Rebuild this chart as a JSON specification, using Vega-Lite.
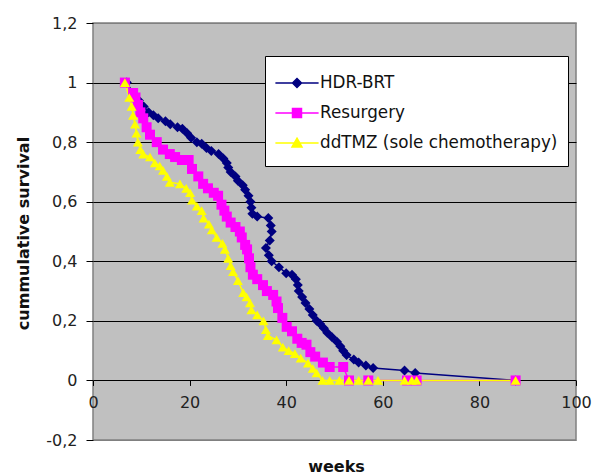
{
  "$schema": "https://vega.github.io/schema/vega-lite/v6.json",
  "width": 483,
  "height": 417,
  "autosize": {"type": "none"},
  "padding": {"left": 93, "top": 23, "right": 17, "bottom": 36},
  "background": "white",
  "config": {
    "view": {"fill": "#C0C0C0", "stroke": "#808080", "strokeWidth": 1.5},
    "font": "DejaVu Sans",
    "axis": {"labelFont": "DejaVu Sans", "titleFont": "DejaVu Sans", "labelFontSize": 16, "labelColor": "#222222", "titleColor": "#111111", "titleFontSize": 16, "titleFontWeight": "bold", "tickColor": "black"}
  },
  "data": {
    "values": [
      {"series": "HDR-BRT", "weeks": 7, "survival": 1.0},
      {"series": "HDR-BRT", "weeks": 8.5, "survival": 0.96},
      {"series": "HDR-BRT", "weeks": 9.5, "survival": 0.94},
      {"series": "HDR-BRT", "weeks": 10.5, "survival": 0.92},
      {"series": "HDR-BRT", "weeks": 11.5, "survival": 0.9},
      {"series": "HDR-BRT", "weeks": 12.5, "survival": 0.89},
      {"series": "HDR-BRT", "weeks": 13.5, "survival": 0.88},
      {"series": "HDR-BRT", "weeks": 15, "survival": 0.87},
      {"series": "HDR-BRT", "weeks": 16, "survival": 0.86},
      {"series": "HDR-BRT", "weeks": 17.5, "survival": 0.85},
      {"series": "HDR-BRT", "weeks": 18.5, "survival": 0.845},
      {"series": "HDR-BRT", "weeks": 19.5, "survival": 0.83},
      {"series": "HDR-BRT", "weeks": 20.3, "survival": 0.815},
      {"series": "HDR-BRT", "weeks": 21.5, "survival": 0.8},
      {"series": "HDR-BRT", "weeks": 22.5, "survival": 0.795},
      {"series": "HDR-BRT", "weeks": 23.5, "survival": 0.78},
      {"series": "HDR-BRT", "weeks": 24.5, "survival": 0.77},
      {"series": "HDR-BRT", "weeks": 26, "survival": 0.76},
      {"series": "HDR-BRT", "weeks": 27, "survival": 0.745},
      {"series": "HDR-BRT", "weeks": 27.7, "survival": 0.73},
      {"series": "HDR-BRT", "weeks": 28, "survival": 0.715},
      {"series": "HDR-BRT", "weeks": 28.5, "survival": 0.7},
      {"series": "HDR-BRT", "weeks": 29.5, "survival": 0.685},
      {"series": "HDR-BRT", "weeks": 30, "survival": 0.67},
      {"series": "HDR-BRT", "weeks": 31, "survival": 0.655},
      {"series": "HDR-BRT", "weeks": 31.5, "survival": 0.64},
      {"series": "HDR-BRT", "weeks": 32.2, "survival": 0.62},
      {"series": "HDR-BRT", "weeks": 32.6, "survival": 0.6},
      {"series": "HDR-BRT", "weeks": 32.8, "survival": 0.58},
      {"series": "HDR-BRT", "weeks": 33, "survival": 0.56},
      {"series": "HDR-BRT", "weeks": 34, "survival": 0.55},
      {"series": "HDR-BRT", "weeks": 36.3, "survival": 0.545},
      {"series": "HDR-BRT", "weeks": 36.8, "survival": 0.52},
      {"series": "HDR-BRT", "weeks": 37, "survival": 0.5},
      {"series": "HDR-BRT", "weeks": 36.6, "survival": 0.47},
      {"series": "HDR-BRT", "weeks": 35.8, "survival": 0.445},
      {"series": "HDR-BRT", "weeks": 36.4, "survival": 0.42},
      {"series": "HDR-BRT", "weeks": 37, "survival": 0.4},
      {"series": "HDR-BRT", "weeks": 38.5, "survival": 0.38},
      {"series": "HDR-BRT", "weeks": 40, "survival": 0.36},
      {"series": "HDR-BRT", "weeks": 41.2, "survival": 0.355},
      {"series": "HDR-BRT", "weeks": 42, "survival": 0.34},
      {"series": "HDR-BRT", "weeks": 42.4, "survival": 0.32},
      {"series": "HDR-BRT", "weeks": 42.6, "survival": 0.3},
      {"series": "HDR-BRT", "weeks": 43.3, "survival": 0.28},
      {"series": "HDR-BRT", "weeks": 44, "survival": 0.26},
      {"series": "HDR-BRT", "weeks": 44.8, "survival": 0.24},
      {"series": "HDR-BRT", "weeks": 45.5, "survival": 0.22},
      {"series": "HDR-BRT", "weeks": 46.3, "survival": 0.2},
      {"series": "HDR-BRT", "weeks": 47, "survival": 0.19},
      {"series": "HDR-BRT", "weeks": 47.8, "survival": 0.175},
      {"series": "HDR-BRT", "weeks": 48.5, "survival": 0.16},
      {"series": "HDR-BRT", "weeks": 49.5, "survival": 0.145},
      {"series": "HDR-BRT", "weeks": 50.5, "survival": 0.13},
      {"series": "HDR-BRT", "weeks": 51.2, "survival": 0.115},
      {"series": "HDR-BRT", "weeks": 51.8, "survival": 0.1},
      {"series": "HDR-BRT", "weeks": 52.5, "survival": 0.085},
      {"series": "HDR-BRT", "weeks": 54, "survival": 0.07},
      {"series": "HDR-BRT", "weeks": 55, "survival": 0.06},
      {"series": "HDR-BRT", "weeks": 56.5, "survival": 0.05},
      {"series": "HDR-BRT", "weeks": 58, "survival": 0.042},
      {"series": "HDR-BRT", "weeks": 64.5, "survival": 0.033},
      {"series": "HDR-BRT", "weeks": 66.7, "survival": 0.025},
      {"series": "HDR-BRT", "weeks": 87.5, "survival": 0.0},
      {"series": "Resurgery", "weeks": 6.6, "survival": 1.0},
      {"series": "Resurgery", "weeks": 8.3, "survival": 0.965},
      {"series": "Resurgery", "weeks": 8.8, "survival": 0.95},
      {"series": "Resurgery", "weeks": 9.3, "survival": 0.925},
      {"series": "Resurgery", "weeks": 9.8, "survival": 0.9},
      {"series": "Resurgery", "weeks": 10.4, "survival": 0.88},
      {"series": "Resurgery", "weeks": 11.1, "survival": 0.85},
      {"series": "Resurgery", "weeks": 11.8, "survival": 0.825},
      {"series": "Resurgery", "weeks": 13.2, "survival": 0.8},
      {"series": "Resurgery", "weeks": 14.5, "survival": 0.775},
      {"series": "Resurgery", "weeks": 15.9, "survival": 0.76},
      {"series": "Resurgery", "weeks": 17, "survival": 0.75},
      {"series": "Resurgery", "weeks": 18.4, "survival": 0.74},
      {"series": "Resurgery", "weeks": 19.8, "survival": 0.74},
      {"series": "Resurgery", "weeks": 20.5, "survival": 0.71},
      {"series": "Resurgery", "weeks": 21.8, "survival": 0.685},
      {"series": "Resurgery", "weeks": 22.8, "survival": 0.66},
      {"series": "Resurgery", "weeks": 23.8, "survival": 0.645},
      {"series": "Resurgery", "weeks": 25, "survival": 0.63},
      {"series": "Resurgery", "weeks": 25.9, "survival": 0.62},
      {"series": "Resurgery", "weeks": 26.6, "survival": 0.59},
      {"series": "Resurgery", "weeks": 27.2, "survival": 0.57},
      {"series": "Resurgery", "weeks": 27.7, "survival": 0.55},
      {"series": "Resurgery", "weeks": 28.5, "survival": 0.53},
      {"series": "Resurgery", "weeks": 29.5, "survival": 0.515},
      {"series": "Resurgery", "weeks": 30.4, "survival": 0.5},
      {"series": "Resurgery", "weeks": 30.8, "survival": 0.48},
      {"series": "Resurgery", "weeks": 31.5, "survival": 0.455},
      {"series": "Resurgery", "weeks": 31.9, "survival": 0.44},
      {"series": "Resurgery", "weeks": 32.3, "survival": 0.41},
      {"series": "Resurgery", "weeks": 32.6, "survival": 0.38},
      {"series": "Resurgery", "weeks": 33.1, "survival": 0.355},
      {"series": "Resurgery", "weeks": 34, "survival": 0.34},
      {"series": "Resurgery", "weeks": 35.2, "survival": 0.32},
      {"series": "Resurgery", "weeks": 36, "survival": 0.3},
      {"series": "Resurgery", "weeks": 37.3, "survival": 0.287},
      {"series": "Resurgery", "weeks": 38, "survival": 0.265},
      {"series": "Resurgery", "weeks": 38.3, "survival": 0.243},
      {"series": "Resurgery", "weeks": 39.2, "survival": 0.21},
      {"series": "Resurgery", "weeks": 40.1, "survival": 0.18},
      {"series": "Resurgery", "weeks": 41.2, "survival": 0.165},
      {"series": "Resurgery", "weeks": 42.3, "survival": 0.14},
      {"series": "Resurgery", "weeks": 43.2, "survival": 0.126},
      {"series": "Resurgery", "weeks": 44.2, "survival": 0.12},
      {"series": "Resurgery", "weeks": 45, "survival": 0.095},
      {"series": "Resurgery", "weeks": 46, "survival": 0.08},
      {"series": "Resurgery", "weeks": 47.6, "survival": 0.06},
      {"series": "Resurgery", "weeks": 49, "survival": 0.045},
      {"series": "Resurgery", "weeks": 51.8, "survival": 0.045},
      {"series": "Resurgery", "weeks": 53, "survival": 0.0},
      {"series": "Resurgery", "weeks": 57, "survival": 0.0},
      {"series": "Resurgery", "weeks": 65, "survival": 0.0},
      {"series": "Resurgery", "weeks": 67, "survival": 0.0},
      {"series": "Resurgery", "weeks": 87.5, "survival": 0.0},
      {"series": "ddTMZ (sole chemotherapy)", "weeks": 6.6, "survival": 1.0},
      {"series": "ddTMZ (sole chemotherapy)", "weeks": 7.5, "survival": 0.95},
      {"series": "ddTMZ (sole chemotherapy)", "weeks": 8, "survival": 0.92},
      {"series": "ddTMZ (sole chemotherapy)", "weeks": 8.3, "survival": 0.89},
      {"series": "ddTMZ (sole chemotherapy)", "weeks": 8.7, "survival": 0.86},
      {"series": "ddTMZ (sole chemotherapy)", "weeks": 9, "survival": 0.83},
      {"series": "ddTMZ (sole chemotherapy)", "weeks": 9.3, "survival": 0.8},
      {"series": "ddTMZ (sole chemotherapy)", "weeks": 9.8, "survival": 0.775},
      {"series": "ddTMZ (sole chemotherapy)", "weeks": 10.4, "survival": 0.76},
      {"series": "ddTMZ (sole chemotherapy)", "weeks": 11.8, "survival": 0.75},
      {"series": "ddTMZ (sole chemotherapy)", "weeks": 12.8, "survival": 0.73},
      {"series": "ddTMZ (sole chemotherapy)", "weeks": 13.8, "survival": 0.72},
      {"series": "ddTMZ (sole chemotherapy)", "weeks": 14.5, "survival": 0.705},
      {"series": "ddTMZ (sole chemotherapy)", "weeks": 15.3, "survival": 0.685},
      {"series": "ddTMZ (sole chemotherapy)", "weeks": 15.9, "survival": 0.665},
      {"series": "ddTMZ (sole chemotherapy)", "weeks": 18, "survival": 0.66},
      {"series": "ddTMZ (sole chemotherapy)", "weeks": 19.3, "survival": 0.645},
      {"series": "ddTMZ (sole chemotherapy)", "weeks": 20.1, "survival": 0.63},
      {"series": "ddTMZ (sole chemotherapy)", "weeks": 20.5, "survival": 0.605},
      {"series": "ddTMZ (sole chemotherapy)", "weeks": 21.5, "survival": 0.585},
      {"series": "ddTMZ (sole chemotherapy)", "weeks": 22.5, "survival": 0.57},
      {"series": "ddTMZ (sole chemotherapy)", "weeks": 22.9, "survival": 0.545},
      {"series": "ddTMZ (sole chemotherapy)", "weeks": 24, "survival": 0.525},
      {"series": "ddTMZ (sole chemotherapy)", "weeks": 24.6, "survival": 0.505},
      {"series": "ddTMZ (sole chemotherapy)", "weeks": 25.6, "survival": 0.48},
      {"series": "ddTMZ (sole chemotherapy)", "weeks": 26.8, "survival": 0.46},
      {"series": "ddTMZ (sole chemotherapy)", "weeks": 27.3, "survival": 0.44},
      {"series": "ddTMZ (sole chemotherapy)", "weeks": 28, "survival": 0.41},
      {"series": "ddTMZ (sole chemotherapy)", "weeks": 28.5, "survival": 0.385},
      {"series": "ddTMZ (sole chemotherapy)", "weeks": 29, "survival": 0.365},
      {"series": "ddTMZ (sole chemotherapy)", "weeks": 30, "survival": 0.335},
      {"series": "ddTMZ (sole chemotherapy)", "weeks": 31.1, "survival": 0.295},
      {"series": "ddTMZ (sole chemotherapy)", "weeks": 31.8, "survival": 0.28},
      {"series": "ddTMZ (sole chemotherapy)", "weeks": 32.5, "survival": 0.26},
      {"series": "ddTMZ (sole chemotherapy)", "weeks": 32.8, "survival": 0.237},
      {"series": "ddTMZ (sole chemotherapy)", "weeks": 34, "survival": 0.22},
      {"series": "ddTMZ (sole chemotherapy)", "weeks": 35.3, "survival": 0.2},
      {"series": "ddTMZ (sole chemotherapy)", "weeks": 35.8, "survival": 0.17},
      {"series": "ddTMZ (sole chemotherapy)", "weeks": 36.2, "survival": 0.15},
      {"series": "ddTMZ (sole chemotherapy)", "weeks": 38, "survival": 0.136},
      {"series": "ddTMZ (sole chemotherapy)", "weeks": 39.3, "survival": 0.112},
      {"series": "ddTMZ (sole chemotherapy)", "weeks": 40.5, "survival": 0.1},
      {"series": "ddTMZ (sole chemotherapy)", "weeks": 41.8, "survival": 0.09},
      {"series": "ddTMZ (sole chemotherapy)", "weeks": 43, "survival": 0.075},
      {"series": "ddTMZ (sole chemotherapy)", "weeks": 44.5, "survival": 0.058},
      {"series": "ddTMZ (sole chemotherapy)", "weeks": 45.5, "survival": 0.04},
      {"series": "ddTMZ (sole chemotherapy)", "weeks": 46.3, "survival": 0.025},
      {"series": "ddTMZ (sole chemotherapy)", "weeks": 47.5, "survival": 0.0},
      {"series": "ddTMZ (sole chemotherapy)", "weeks": 49, "survival": 0.0},
      {"series": "ddTMZ (sole chemotherapy)", "weeks": 51, "survival": 0.0},
      {"series": "ddTMZ (sole chemotherapy)", "weeks": 53, "survival": 0.0},
      {"series": "ddTMZ (sole chemotherapy)", "weeks": 55, "survival": 0.0},
      {"series": "ddTMZ (sole chemotherapy)", "weeks": 57, "survival": 0.0},
      {"series": "ddTMZ (sole chemotherapy)", "weeks": 59, "survival": 0.0},
      {"series": "ddTMZ (sole chemotherapy)", "weeks": 64.5, "survival": 0.0},
      {"series": "ddTMZ (sole chemotherapy)", "weeks": 66, "survival": 0.0},
      {"series": "ddTMZ (sole chemotherapy)", "weeks": 67, "survival": 0.0},
      {"series": "ddTMZ (sole chemotherapy)", "weeks": 87.5, "survival": 0.0}
    ]
  },
  "encoding": {
    "x": {
      "field": "weeks", "type": "quantitative",
      "scale": {"domain": [0, 100], "nice": false},
      "axis": {
        "title": "weeks", "values": [0, 20, 40, 60, 80, 100], "offset": -59.57,
        "domain": false, "grid": false, "tickSize": 5, "labelPadding": 9,
        "labelFlush": false, "labelOverlap": false,
        "titleX": 243, "titleY": 86, "titleBaseline": "middle"
      }
    },
    "y": {
      "field": "survival", "type": "quantitative",
      "scale": {"domain": [-0.2, 1.2], "nice": false, "zero": false},
      "axis": {
        "title": "cummulative survival", "values": [-0.2, 0, 0.2, 0.4, 0.6, 0.8, 1, 1.2],
        "labelExpr": "replace(replace(format(datum.value, '.1~f'), '.', ','), '\u2212', '-')",
        "domain": false, "grid": true, "tickSize": 7, "labelPadding": 9,
        "labelFlush": false, "labelOverlap": false,
        "gridColor": {"condition": {"test": "datum.value > 1.1 || datum.value < -0.1", "value": "#808080"}, "value": "black"},
        "gridWidth": 1, "gridOpacity": 1,
        "titleX": -70, "titleY": 210, "titleBaseline": "middle", "titleAngle": -90
      }
    },
    "color": {
      "field": "series", "type": "nominal",
      "scale": {"domain": ["HDR-BRT", "Resurgery", "ddTMZ (sole chemotherapy)"], "range": ["#000080", "#FF00FF", "#FFFF00"]},
      "legend": {
        "title": null, "orient": "none", "legendX": 172, "legendY": 33,
        "fillColor": "white", "strokeColor": "black", "padding": 10,
        "labelFont": "DejaVu Sans", "labelFontSize": 16.8, "labelColor": "#111111", "labelLimit": 400,
        "labelOffset": 6, "symbolSize": 1024, "symbolOffset": 5, "symbolStrokeWidth": 1.5, "rowPadding": -5.5,
        "encoding": {
          "symbols": {
            "shape": {"value": {"expr": "datum.value === 'HDR-BRT' ? 'M0,-0.625M0,0.625M-1.35,0H1.35M0,-0.281L0.281,0L0,0.281L-0.281,0Z' : datum.value === 'Resurgery' ? 'M0,-0.625M0,0.625M-1.35,0H1.35M-0.281,-0.281H0.281V0.281H-0.281Z' : 'M0,-0.625M0,0.625M-1.35,0H1.35M0,-0.3L0.3125,0.25H-0.3125Z'"}},
            "fill": {"value": {"expr": "datum.value === 'HDR-BRT' ? '#000080' : datum.value === 'Resurgery' ? '#FF00FF' : '#FFFF00'"}},
            "stroke": {"value": {"expr": "datum.value === 'HDR-BRT' ? '#000080' : datum.value === 'Resurgery' ? '#FF00FF' : '#FFFF00'"}},
            "strokeWidth": {"value": 1.5},
            "size": {"value": 1024},
            "opacity": {"value": 1}
          }
        }
      }
    }
  },
  "layer": [
    {
      "mark": {"type": "line", "strokeWidth": 1.5},
      "encoding": {
        "order": {"value": null}
      }
    },
    {
      "mark": {"type": "point", "filled": true, "opacity": 1, "size": 100},
      "encoding": {
        "shape": {
          "condition": [
            {"test": "datum.series === 'HDR-BRT'", "value": "diamond"},
            {"test": "datum.series === 'Resurgery'", "value": "square"}
          ],
          "value": "triangle-up"
        }
      }
    }
  ]
}
